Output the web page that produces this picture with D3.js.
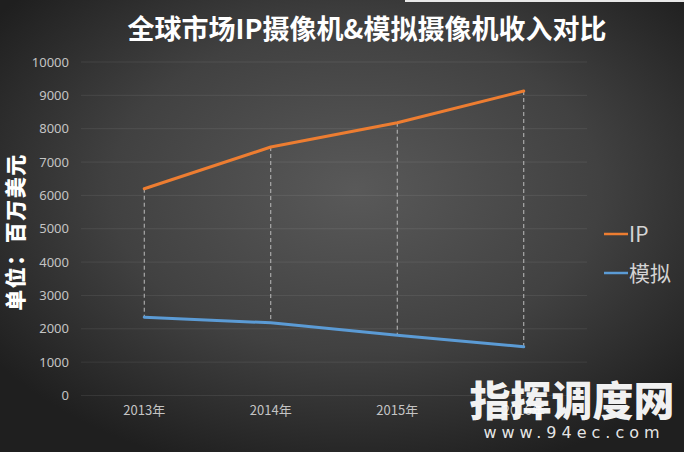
<!DOCTYPE html>
<html><head><meta charset="utf-8">
<script src="https://cdn.jsdelivr.net/npm/d3@7"></script>
<style>
html,body{margin:0;padding:0;background:#2b2b2b;}
svg{display:block;}
</style></head>
<body>
<svg id="chart" width="684" height="452"></svg>
<script>
const categories = ["2013年", "2014年", "2015年", "2016年"];
const ipValues = [6200, 7450, 8180, 9130];
const analogValues = [2350, 2180, 1810, 1460];
const seriesNames = ["IP", "模拟"];
const yTicks = [0, 1000, 2000, 3000, 4000, 5000, 6000, 7000, 8000, 9000, 10000];
const titleText = "全球市场IP摄像机&模拟摄像机收入对比";
const yAxisTitle = "单位：百万美元";
const watermark1 = "指挥调度网";
const watermark2 = "www.94ec.com";

const W = 684, H = 452;
const svg = d3.select("#chart");
const defs = svg.append("defs");
const grad = defs.append("radialGradient").attr("id","bg")
  .attr("cx","52%").attr("cy","42%").attr("r","65%");
grad.append("stop").attr("offset","0%").attr("stop-color","#595959");
grad.append("stop").attr("offset","55%").attr("stop-color","#414141");
grad.append("stop").attr("offset","100%").attr("stop-color","#1f1f1f");
svg.append("rect").attr("width",W).attr("height",H).attr("fill","url(#bg)");
svg.append("rect").attr("x",405).attr("y",0).attr("width",W-405).attr("height",2).attr("fill","#e8e8e8");

const x = d3.scaleBand().domain(categories).range([81, 587]);
const y = d3.scaleLinear().domain([0, 10000]).range([395.5, 62]);
const cx = d => x(d) + x.bandwidth()/2;

// gridlines
svg.append("g").selectAll("line").data(yTicks).join("line")
  .attr("x1",81).attr("x2",587)
  .attr("y1",d=>y(d)).attr("y2",d=>y(d))
  .attr("stroke","#ffffff").attr("stroke-opacity",0.08).attr("stroke-width",1);

// y axis
const yAxis = d3.axisLeft(y).tickValues(yTicks).tickSize(0).tickPadding(0).tickFormat(d3.format("d"));
const gy = svg.append("g").attr("transform","translate(69,0)").call(yAxis);
gy.select(".domain").remove();
gy.selectAll("text").attr("fill","#c4c4c4").style("font-family","'Noto Sans', 'DejaVu Sans', sans-serif").style("font-size","13px");

// x axis
const xAxis = d3.axisBottom(x).tickSize(0).tickPadding(0);
const gx = svg.append("g").attr("transform","translate(0,406)").call(xAxis);
gx.select(".domain").remove();
gx.selectAll("text").attr("fill","#c4c4c4").style("font-family","'Noto Sans CJK SC', 'Noto Sans', sans-serif").style("font-size","13px");

// drop lines
svg.append("g").selectAll("line").data(categories).join("line")
  .attr("x1",d=>cx(d)).attr("x2",d=>cx(d))
  .attr("y1",(d,i)=>y(ipValues[i])).attr("y2",(d,i)=>y(analogValues[i]))
  .attr("stroke","#bdbdbd").attr("stroke-width",1).attr("stroke-dasharray","4,3");

const line = d3.line().x((d,i)=>cx(categories[i])).y(d=>y(d));
const colors = ["#ED7D31", "#5B9BD5"];
[ipValues, analogValues].forEach((vals, k) => {
  svg.append("path").datum(vals).attr("d", line)
    .attr("fill","none").attr("stroke", colors[k]).attr("stroke-width",3)
    .attr("stroke-linejoin","round").attr("stroke-linecap","round");
});

// legend
const leg = svg.append("g");
seriesNames.forEach((n,k) => {
  const ly = 234 + k*39;
  leg.append("line").attr("x1",604).attr("x2",628).attr("y1",ly).attr("y2",ly)
    .attr("stroke",colors[k]).attr("stroke-width",2.5);
  leg.append("text").attr("x",629).attr("y",ly).attr("dy","0.36em")
    .attr("fill","#d4d4d4").style("font-family","'Noto Sans CJK SC', sans-serif")
    .style("font-size","21px").text(n);
});

// title
svg.append("text").attr("x",367).attr("y",30).attr("text-anchor","middle").attr("dy","0.35em")
  .attr("fill","#ffffff").style("font-family","'Noto Sans CJK SC', sans-serif")
  .style("font-weight","bold").style("font-size","27px").text(titleText);

// y title
svg.append("text").attr("transform","translate(16,232) rotate(-90)").attr("text-anchor","middle").attr("dy","0.35em")
  .attr("fill","#ffffff").style("font-family","'Noto Sans CJK SC', sans-serif")
  .style("font-weight","900").style("font-size","21px").style("letter-spacing","1.5px").text(yAxisTitle);

// watermark
svg.append("text").attr("x",572).attr("y",402).attr("text-anchor","middle").attr("dy","0.35em")
  .attr("fill","#ffffff").attr("fill-opacity",0.95).style("font-family","'Noto Sans CJK SC', sans-serif")
  .style("font-weight","900").style("font-size","41px").text(watermark1);
svg.append("text").attr("x",574).attr("y",432).attr("text-anchor","middle").attr("dy","0.35em")
  .attr("fill","#ffffff").attr("fill-opacity",0.9).style("font-family","'DejaVu Sans', sans-serif")
  .style("font-size","16px").style("letter-spacing","5px").text(watermark2);
</script>
</body></html>
